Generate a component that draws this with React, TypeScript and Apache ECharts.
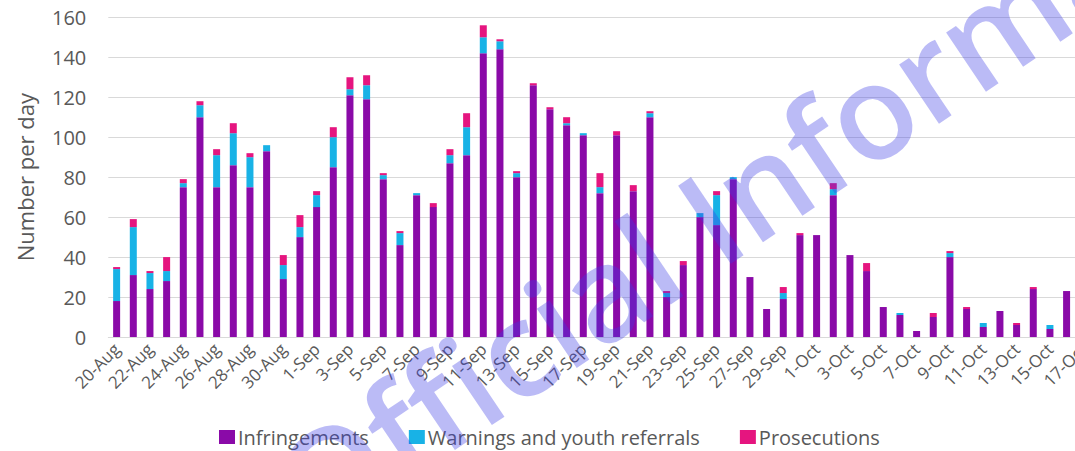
import React, { useEffect, useRef } from "react";
import * as echarts from "echarts";

const dates = [
  "20-Aug", "21-Aug", "22-Aug", "23-Aug", "24-Aug", "25-Aug", "26-Aug", "27-Aug", "28-Aug", "29-Aug",
  "30-Aug", "31-Aug", "1-Sep", "2-Sep", "3-Sep", "4-Sep", "5-Sep", "6-Sep", "7-Sep", "8-Sep",
  "9-Sep", "10-Sep", "11-Sep", "12-Sep", "13-Sep", "14-Sep", "15-Sep", "16-Sep", "17-Sep", "18-Sep",
  "19-Sep", "20-Sep", "21-Sep", "22-Sep", "23-Sep", "24-Sep", "25-Sep", "26-Sep", "27-Sep", "28-Sep",
  "29-Sep", "30-Sep", "1-Oct", "2-Oct", "3-Oct", "4-Oct", "5-Oct", "6-Oct", "7-Oct", "8-Oct",
  "9-Oct", "10-Oct", "11-Oct", "12-Oct", "13-Oct", "14-Oct", "15-Oct", "16-Oct", "17-Oct",
];

const infringements = [
  18, 31, 24, 28, 75, 110, 75, 86, 75, 93,
  29, 50, 65, 85, 121, 119, 79, 46, 71, 65,
  87, 91, 142, 144, 80, 126, 114, 106, 101, 72,
  101, 73, 110, 20, 36, 60, 56, 79, 30, 14,
  19, 51, 51, 71, 41, 33, 15, 11, 3, 10,
  40, 14, 5, 13, 6, 24, 4, 23, null,
];

const warnings = [
  16, 24, 8, 5, 2, 6, 16, 16, 15, 3,
  7, 5, 6, 15, 3, 7, 2, 6, 1, 0,
  4, 14, 8, 4, 2, 0, 0, 1, 1, 3,
  0, 0, 2, 2, 0, 2, 15, 1, 0, 0,
  3, 0, 0, 3, 0, 0, 0, 1, 0, 0,
  2, 0, 2, 0, 0, 0, 2, 0, null,
];

const prosecutions = [
  1, 4, 1, 7, 2, 2, 3, 5, 2, 0,
  5, 6, 2, 5, 6, 5, 1, 1, 0, 2,
  3, 7, 6, 1, 1, 1, 1, 3, 0, 7,
  2, 3, 1, 1, 2, 0, 2, 0, 0, 0,
  3, 1, 0, 3, 0, 4, 0, 0, 0, 2,
  1, 1, 0, 0, 1, 1, 0, 0, null,
];

const yTicks = { min: 0, max: 160, interval: 20 };

const FONT = "'Open Sans', 'DejaVu Sans', sans-serif";
const TEXT = "#595959";

export default function App() {
  const ref = useRef<HTMLDivElement>(null);

  useEffect(() => {
    if (!ref.current) return;
    const chart = echarts.init(ref.current, undefined, { renderer: "svg" });
    const barCommon = {
      type: "bar",
      stack: "total",
      barWidth: 7,
    };
    chart.setOption({
      animation: false,
      backgroundColor: "#ffffff",
      textStyle: { fontFamily: FONT },
      grid: { left: 108.3, right: 8.4, top: 17.3, bottom: 114 },
      legend: {
        left: 214,
        top: 422,
        icon: "rect",
        itemWidth: 16,
        itemHeight: 14,
        itemGap: 40,
        textStyle: { color: TEXT, fontSize: 20, fontFamily: FONT, padding: [0, 0, 0, -2] },
        data: ["Infringements", "Warnings and youth referrals", "Prosecutions"],
      },
      xAxis: {
        type: "category",
        data: dates,
        axisLine: { lineStyle: { color: "#d9d9d9" } },
        axisTick: { interval: 1, length: 6, lineStyle: { color: "#d9d9d9" } },
        axisLabel: {
          interval: 1,
          rotate: 45,
          fontSize: 17,
          color: TEXT,
          fontFamily: FONT,
          margin: 9,
        },
      },
      yAxis: {
        type: "value",
        min: yTicks.min,
        max: yTicks.max,
        interval: yTicks.interval,
        name: "Number per day",
        nameLocation: "middle",
        nameGap: 72,
        nameTextStyle: { fontSize: 22, color: TEXT, fontFamily: FONT },
        axisLine: { show: false },
        axisTick: { show: false },
        axisLabel: { fontSize: 20, color: TEXT, fontFamily: FONT, margin: 22 },
        splitLine: { lineStyle: { color: "#d9d9d9", width: 1 } },
      },
      series: [
        { ...barCommon, name: "Infringements", data: infringements, itemStyle: { color: "#8a0aa8" } },
        { ...barCommon, name: "Warnings and youth referrals", data: warnings, itemStyle: { color: "#18b2e6" } },
        { ...barCommon, name: "Prosecutions", data: prosecutions, itemStyle: { color: "#e5157f" } },
      ],
      graphic: [
        {
          type: "text",
          x: 326,
          y: 555,
          rotation: (34 * Math.PI) / 180,
          z: 100,
          silent: true,
          style: {
            text: "Official Information",
            font: `600 132px ${FONT}`,
            fill: "rgba(60,60,230,0.35)",
            textAlign: "left",
            textVerticalAlign: "bottom",
          },
        },
      ],
    });
    return () => chart.dispose();
  }, []);

  return (
    <div
      style={{
        position: "fixed",
        left: 0,
        top: 0,
        width: 1075,
        height: 451,
        overflow: "hidden",
        background: "#fff",
      }}
    >
      <div ref={ref} style={{ width: 1100, height: 451 }} />
    </div>
  );
}
